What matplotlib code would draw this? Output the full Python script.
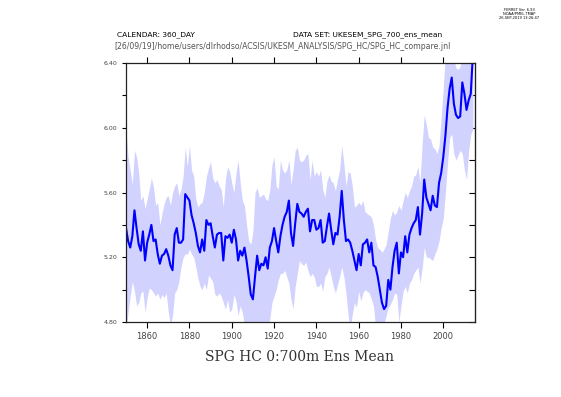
import numpy as np
import matplotlib
matplotlib.use("Agg")
import matplotlib.pyplot as plt

years = np.arange(1850, 2015)

ens_mean = [
    5.38, 5.30, 5.26, 5.33, 5.49, 5.38, 5.28, 5.24, 5.36, 5.18,
    5.29, 5.34, 5.40, 5.30, 5.31, 5.22, 5.16, 5.21, 5.22, 5.25,
    5.21, 5.15, 5.12, 5.34, 5.38, 5.29, 5.29, 5.31, 5.59, 5.57,
    5.55, 5.46, 5.41, 5.35, 5.27, 5.23, 5.31, 5.24, 5.43, 5.40,
    5.41, 5.33, 5.26, 5.34, 5.35, 5.35, 5.18, 5.33, 5.32, 5.34,
    5.29, 5.37, 5.31, 5.18, 5.24, 5.21, 5.26, 5.18, 5.08, 4.97,
    4.94, 5.08, 5.21, 5.12, 5.16, 5.15, 5.20, 5.13, 5.26, 5.30,
    5.38, 5.30, 5.23, 5.33, 5.40, 5.45, 5.48, 5.55, 5.35, 5.27,
    5.41, 5.53, 5.48, 5.47, 5.45, 5.48, 5.50, 5.36, 5.43, 5.43,
    5.37, 5.38, 5.43, 5.29, 5.30, 5.39, 5.47, 5.37, 5.28, 5.35,
    5.34, 5.45, 5.61, 5.43, 5.30, 5.31, 5.29, 5.24, 5.18, 5.12,
    5.22, 5.15, 5.28, 5.29, 5.31, 5.23, 5.29, 5.15, 5.14, 5.08,
    5.00, 4.92, 4.88, 4.90, 5.06, 5.00, 5.14, 5.24, 5.29, 5.10,
    5.23, 5.20, 5.33, 5.23, 5.34, 5.38, 5.41, 5.43, 5.51, 5.34,
    5.47, 5.68, 5.57, 5.53, 5.49, 5.58, 5.52, 5.51, 5.66, 5.72,
    5.82, 5.95, 6.12, 6.24, 6.31, 6.15, 6.08, 6.06, 6.07, 6.28,
    6.21, 6.11, 6.17, 6.21, 6.45,
]

ens_max = [
    5.98, 5.82, 5.74, 5.65, 5.86, 5.82, 5.72, 5.55, 5.58, 5.50,
    5.56, 5.62, 5.69, 5.63, 5.52, 5.54, 5.40, 5.47, 5.53, 5.57,
    5.58, 5.52, 5.60, 5.64, 5.66, 5.58, 5.62, 5.70, 5.88, 5.76,
    5.89, 5.74, 5.70, 5.56, 5.51, 5.53, 5.54, 5.60, 5.70, 5.75,
    5.79, 5.69, 5.66, 5.68, 5.64, 5.62, 5.51, 5.68, 5.76, 5.73,
    5.66, 5.60, 5.72, 5.80, 5.66, 5.55, 5.52, 5.40, 5.30, 5.28,
    5.36, 5.60, 5.63, 5.57, 5.58, 5.59, 5.56, 5.55, 5.62, 5.77,
    5.82, 5.64, 5.62, 5.80, 5.74, 5.72, 5.74, 5.80, 5.65, 5.74,
    5.86, 5.88, 5.80, 5.79, 5.80, 5.83, 5.84, 5.68, 5.80, 5.70,
    5.73, 5.70, 5.74, 5.62, 5.57, 5.67, 5.71, 5.67, 5.66, 5.61,
    5.68, 5.74, 5.89, 5.78, 5.64, 5.73, 5.72, 5.64, 5.51, 5.52,
    5.54, 5.52, 5.55, 5.48, 5.47, 5.46, 5.45, 5.40, 5.31, 5.26,
    5.25, 5.23, 5.25, 5.28, 5.36, 5.44, 5.49, 5.46, 5.48, 5.52,
    5.49, 5.55, 5.60, 5.57, 5.61, 5.64, 5.70, 5.71, 5.76, 5.66,
    5.90, 6.08, 6.02, 5.94, 5.93, 5.88, 5.87, 5.84, 5.89, 6.06,
    6.25, 6.45, 6.50, 6.50, 6.48, 6.42, 6.37, 6.36, 6.38, 6.46,
    6.50, 6.45, 6.48, 6.50, 6.55,
]

ens_min = [
    4.75, 4.86, 4.96, 5.05, 4.99, 4.90, 4.92, 4.98, 4.99, 4.86,
    4.95, 5.01, 5.00, 4.98, 4.96, 4.98, 4.94, 4.97, 4.95, 4.98,
    4.86, 4.78, 4.84, 4.98, 5.00, 5.05, 5.14, 5.20, 5.22, 5.22,
    5.25, 5.22, 5.20, 5.14, 5.07, 5.02, 5.00, 5.04, 5.00, 5.09,
    5.07, 5.05, 4.97, 4.96, 4.98, 4.96, 4.92, 4.88, 4.94, 4.86,
    4.88, 4.97, 4.93, 4.84, 4.90, 4.86, 4.78, 4.72, 4.70, 4.68,
    4.68, 4.72, 4.74, 4.72, 4.74, 4.76, 4.73, 4.77, 4.82, 4.92,
    4.96, 5.00, 5.06, 5.10, 5.10, 5.12, 5.08, 5.04, 4.94, 4.88,
    5.02, 5.10, 5.18, 5.16, 5.15, 5.17, 5.12, 5.08, 5.10, 5.08,
    5.02, 5.02, 5.04, 4.99, 5.08, 5.10, 5.14, 5.08, 5.02, 4.98,
    5.03, 5.08, 5.14, 5.08, 4.98, 4.84, 4.75, 4.85, 4.92, 4.89,
    4.99, 4.93, 4.98, 5.00, 4.99, 4.98, 4.94, 4.90, 4.77, 4.72,
    4.72, 4.76, 4.79, 4.84, 4.89, 4.91, 4.94, 4.98, 4.97, 4.80,
    4.90, 4.99, 5.02, 4.98, 5.04, 5.06, 5.10, 5.12, 5.14, 5.04,
    5.13, 5.26, 5.20, 5.20, 5.19, 5.18, 5.22, 5.25, 5.30, 5.38,
    5.44, 5.60, 5.78, 5.94, 5.96, 5.84, 5.80, 5.83, 5.86, 5.84,
    5.74, 5.68, 5.86, 5.96, 5.99,
]

xticks = [1860, 1880, 1900, 1920, 1940, 1960, 1980, 2000]
yticks = [4.8, 5.2, 5.6, 6.0, 6.4]

fig = plt.figure(figsize=(5.61, 3.97), dpi=100)
ax = fig.add_axes([0.2246, 0.1889, 0.6221, 0.6524])

ax.fill_between(years, ens_min, ens_max, color="#d2d2ff", lw=0)
ax.plot(years, ens_mean, color="#0000ff", lw=1.5)

ax.set_xlim(1850, 2015)
ax.set_ylim(4.8, 6.4)
ax.set_xticks(xticks)
ax.set_yticks(yticks)
ax.set_yticks(np.arange(4.8, 6.41, 0.2), minor=True)
ax.set_yticklabels(["%.2f" % v for v in yticks])
ax.tick_params(axis="x", direction="out", top=True, length=4, width=0.8,
               labelsize=6, labelcolor="#444444", pad=3)
ax.tick_params(axis="y", which="both", direction="out", right=False,
               length=3, width=0.8, labelsize=4.5, labelcolor="#444444")
for sp in ax.spines.values():
    sp.set_linewidth(0.9)
    sp.set_color("#222222")

# right side ticks point inwards
sec = ax.secondary_yaxis("right")
sec.set_yticks(np.arange(4.8, 6.41, 0.2))
sec.tick_params(direction="in", length=4, width=0.8, labelright=False)

fig.text(0.2086, 0.914, "CALENDAR: 360_DAY", fontsize=5.4, ha="left", va="center")
fig.text(0.7880, 0.914, "DATA SET: UKESEM_SPG_700_ens_mean", fontsize=5.4,
         ha="right", va="center")
fig.text(0.5045, 0.882,
         "[26/09/19]/home/users/dlrhodso/ACSIS/UKESM_ANALYSIS/SPG_HC/SPG_HC_compare.jnl",
         fontsize=5.6, ha="center", va="center", color="#555555")
fig.text(0.925, 0.965, "FERRET Ver. 6.93\nNOAA/PMEL TMAP\n26-SEP-2019 13:26:47",
         fontsize=2.6, ha="center", va="center", linespacing=1.0)
fig.text(0.5335, 0.100, "SPG HC 0:700m Ens Mean", fontsize=10, ha="center",
         va="center", family="DejaVu Serif", color="#333333")

fig.savefig("out.png", dpi=100)
